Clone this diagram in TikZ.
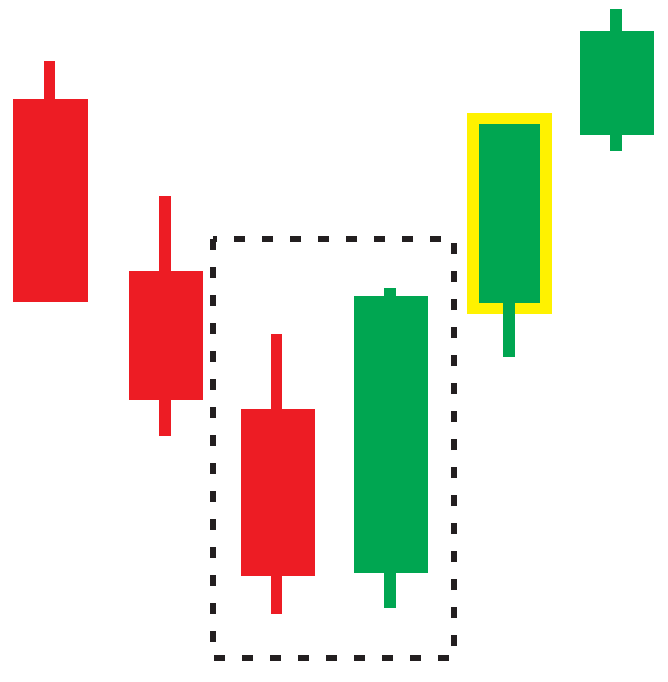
\documentclass[tikz,border=0pt]{standalone}
\definecolor{cred}{HTML}{ED1C24}
\definecolor{cgreen}{HTML}{00A651}
\definecolor{cyellow}{HTML}{FFF200}
\definecolor{cdash}{HTML}{231F20}
\tikzset{
  redc/.style={fill=cred,draw=none},
  greenc/.style={fill=cgreen,draw=none},
  hilite/.style={fill=cyellow,draw=none},
  selbox/.style={draw=cdash,line width=6pt,dash pattern=on 11pt off 17pt}
}
\begin{document}
\begin{tikzpicture}[x=1pt,y=-1pt]
\useasboundingbox (0,0) rectangle (668,682);
% candle 1 (red)
\fill[redc] (44,61) rectangle (55,100);
\fill[redc] (13,99) rectangle (88,302);
% candle 2 (red)
\fill[redc] (159,196) rectangle (171,436);
\fill[redc] (129,271) rectangle (203,400);
% selection box
\draw[selbox] (213,239) rectangle (454,658);
% candle 3 (red)
\fill[redc] (271,334) rectangle (282,614);
\fill[redc] (241,409) rectangle (315,576);
% candle 4 (green)
\fill[greenc] (384,288) rectangle (396,608);
\fill[greenc] (354,296) rectangle (428,573);
% candle 5 (green, highlighted)
\fill[hilite] (467,113) rectangle (552,314);
\fill[greenc] (479,124) rectangle (540,303);
\fill[greenc] (503,303) rectangle (515,357);
% candle 6 (green)
\fill[greenc] (610,9) rectangle (622,151);
\fill[greenc] (580,31) rectangle (654,135);
\end{tikzpicture}
\end{document}
